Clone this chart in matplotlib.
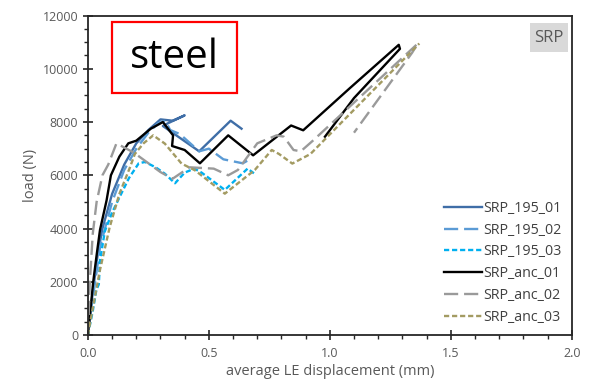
import matplotlib
matplotlib.use("Agg")
import matplotlib.pyplot as plt
from matplotlib.patches import Rectangle
from matplotlib.ticker import MultipleLocator

plt.rcParams['font.family'] = ['Open Sans', 'DejaVu Sans']

# ---- data (displacement mm, load N) ----
x_195_01 = [0, 0.01, 0.02, 0.04, 0.06, 0.10, 0.15, 0.20, 0.25, 0.30, 0.35, 0.40, 0.33, 0.31, 0.46, 0.59, 0.635]
y_195_01 = [0, 800, 1600, 3000, 4000, 5300, 6400, 7200, 7700, 8100, 8050, 8250, 7950, 7850, 6900, 8050, 7750]

x_195_02 = [0, 0.01, 0.03, 0.05, 0.10, 0.15, 0.20, 0.25, 0.29, 0.32, 0.34, 0.38, 0.46, 0.50, 0.53, 0.56, 0.64, 0.66]
y_195_02 = [0, 800, 2000, 3300, 5000, 6200, 7000, 7600, 7950, 8050, 7700, 7550, 6900, 7000, 6800, 6600, 6450, 6550]

x_195_03 = [0, 0.02, 0.035, 0.045, 0.05, 0.07, 0.10, 0.132, 0.17, 0.21, 0.236, 0.28, 0.318, 0.36, 0.40, 0.44, 0.47, 0.566, 0.66, 0.69]
y_195_03 = [0, 900, 1700, 1900, 2800, 3900, 4600, 5200, 5900, 6450, 6500, 6300, 6060, 5700, 6100, 6250, 6100, 5450, 6250, 6050]

x_anc_01 = [0, 0.01, 0.022, 0.036, 0.05, 0.077, 0.095, 0.13, 0.167, 0.20, 0.26, 0.31, 0.352, 0.348, 0.40, 0.463, 0.58, 0.683, 0.84, 0.89, 1.08, 1.285, 1.29, 1.10, 0.98]
y_anc_01 = [0, 900, 2000, 3000, 3950, 5050, 6000, 6700, 7200, 7300, 7750, 8000, 7500, 7100, 6950, 6450, 7500, 6750, 7870, 7690, 9250, 10900, 10750, 8900, 7450]

x_anc_02 = [0, 0.008, 0.02, 0.036, 0.06, 0.084, 0.118, 0.19, 0.30, 0.35, 0.42, 0.52, 0.58, 0.62, 0.70, 0.78, 0.81, 0.85, 0.88, 0.93, 1.364, 1.34, 1.10]
y_anc_02 = [0, 2000, 3800, 5000, 6000, 6400, 7200, 6850, 6120, 5870, 6300, 6250, 6000, 6200, 7200, 7500, 7450, 6950, 6900, 7300, 10950, 10600, 7600]

x_anc_03 = [0, 0.02, 0.05, 0.09, 0.13, 0.174, 0.194, 0.23, 0.27, 0.318, 0.387, 0.442, 0.566, 0.69, 0.76, 0.79, 0.845, 0.92, 1.37]
y_anc_03 = [0, 1000, 2450, 4050, 5300, 6300, 6800, 7200, 7500, 7190, 6440, 6190, 5310, 6200, 6950, 6800, 6440, 6800, 10950]

series = [
    ("SRP_195_01", x_195_01, y_195_01, "#3F6EA7", "-"),
    ("SRP_195_02", x_195_02, y_195_02, "#5B9BD5", (0, (6, 2.5))),
    ("SRP_195_03", x_195_03, y_195_03, "#00B0F0", (0, (2.2, 1.2))),
    ("SRP_anc_01", x_anc_01, y_anc_01, "#000000", "-"),
    ("SRP_anc_02", x_anc_02, y_anc_02, "#9A9A9A", (0, (6, 2.5))),
    ("SRP_anc_03", x_anc_03, y_anc_03, "#A39B62", (0, (2.2, 1.2))),
]

fig = plt.figure(figsize=(5.9, 3.79), dpi=100)
ax = fig.add_axes([0.149, 0.116, 0.820, 0.843])

for name, xs, ys, c, ls in series:
    ax.plot(xs, ys, color=c, linestyle=ls, linewidth=1.7, label=name)

ax.set_xlim(0, 2.0)
ax.set_ylim(0, 12000)
ax.xaxis.set_major_locator(MultipleLocator(0.5))
ax.xaxis.set_minor_locator(MultipleLocator(0.1))
ax.yaxis.set_major_locator(MultipleLocator(2000))
ax.yaxis.set_minor_locator(MultipleLocator(500))
ax.xaxis.set_major_formatter(matplotlib.ticker.FormatStrFormatter('%.1f'))

tick_col = "#595959"
ax.tick_params(axis='both', which='major', direction='inout', length=7, width=1.2,
               colors='#262626', labelcolor=tick_col, labelsize=9)
ax.tick_params(axis='both', which='minor', direction='out', length=3, width=1.0,
               colors='#262626')
ax.tick_params(axis='x', which='major', pad=5)

for s in ax.spines.values():
    s.set_color('#262626')
    s.set_linewidth(1.3)

ax.set_xlabel("average LE displacement (mm)", fontsize=10.5, color=tick_col, labelpad=3)
ax.set_ylabel("load (N)", fontsize=10.5, color=tick_col, labelpad=3)

# "steel" box
ax.add_patch(Rectangle((0.0496, 0.758), 0.258, 0.222, transform=ax.transAxes,
                       fill=True, facecolor='white', edgecolor='#FF0000', linewidth=1.6, zorder=5))
ax.text(0.179, 0.868, "steel", transform=ax.transAxes, fontsize=29, color='black',
        ha='center', va='center', zorder=6)

# "SRP" box
ax.add_patch(Rectangle((0.913, 0.886), 0.0785, 0.091, transform=ax.transAxes,
                       facecolor='#D9D9D9', edgecolor='none', zorder=5))
ax.text(0.952, 0.93, "SRP", transform=ax.transAxes, fontsize=12, color='#595959',
        ha='center', va='center', zorder=6)

leg = ax.legend(loc='lower right', bbox_to_anchor=(1.0, 0.0), frameon=False,
                fontsize=10.3, handlelength=2.6, handletextpad=0.12,
                labelspacing=0.48, borderaxespad=0.3)
for t in leg.get_texts():
    t.set_color('#404040')

fig.savefig("out.png", dpi=100)
